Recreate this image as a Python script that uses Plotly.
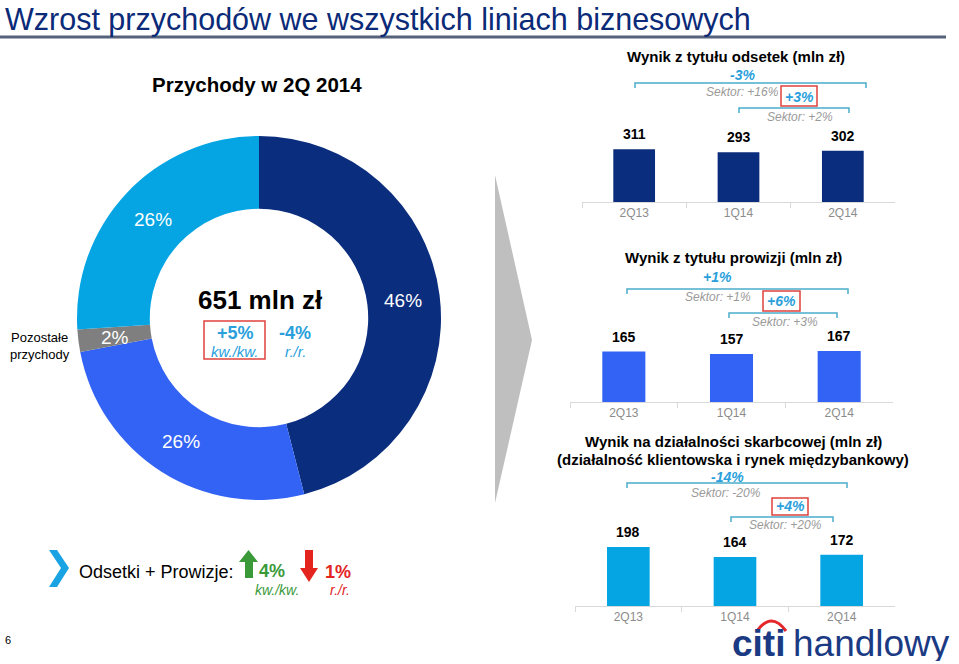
import math
import plotly.graph_objects as go

W, H = 959, 664


def px(x):
    return x / W


def py(y):
    return 1 - y / H


# ---------------- data ----------------
title_text = "Wzrost przychodów we wszystkich liniach biznesowych"
donut_title = "Przychody w 2Q 2014"
donut_labels = ["Wynik z tytułu odsetek", "Wynik z tytułu prowizji",
                "Pozostałe przychody", "Wynik na działalności skarbcowej"]
donut_values = [46, 26, 2, 26]
donut_total = "651 mln zł"
donut_qoq = "+5%"
donut_yoy = "-4%"

quarters = ["2Q13", "1Q14", "2Q14"]
odsetki = [311, 293, 302]
prowizje = [165, 157, 167]
skarb = [198, 164, 172]

odsetki_yoy, odsetki_yoy_sector = "-3%", "Sektor: +16%"
odsetki_qoq, odsetki_qoq_sector = "+3%", "Sektor: +2%"
prowizje_yoy, prowizje_yoy_sector = "+1%", "Sektor: +1%"
prowizje_qoq, prowizje_qoq_sector = "+6%", "Sektor: +3%"
skarb_yoy, skarb_yoy_sector = "-14%", "Sektor: -20%"
skarb_qoq, skarb_qoq_sector = "+4%", "Sektor: +20%"

op_qoq = "4%"
op_yoy = "1%"

# ---------------- styles ----------------
FONT = "Liberation Sans, Arial, sans-serif"
NAVY = "#0b2d7e"
BLUE = "#3363f4"
CYAN = "#05a5e3"
GRAY = "#7f7f7f"
donut_colors = [NAVY, BLUE, GRAY, CYAN]
PCT = "#2a9fdc"
BRACKET = "#4aaccb"
SECT = "#9a9a9a"
REDBOX = "#e0403c"
GREEN = "#3a9a3a"
RED = "#e3241f"

fig = go.Figure()

# donut
cx, cy, R = 259, 318, 182
fig.add_trace(go.Pie(
    values=donut_values, labels=donut_labels, hole=0.6, sort=False,
    direction="clockwise", rotation=0,
    marker=dict(colors=donut_colors, line=dict(width=0)),
    textinfo="none", hoverinfo="label+value", showlegend=False,
    domain=dict(x=[px(cx - R), px(cx + R)], y=[py(cy + R), py(cy - R)]),
))

annotations = []
shapes = []


def txt(x, y, text, size, color="black", xanchor="center", yanchor="middle", height=None):
    a = dict(
        x=px(x), y=py(y), xref="paper", yref="paper", text=text, showarrow=False,
        xanchor=xanchor, yanchor=yanchor,
        font=dict(family=FONT, size=size, color=color))
    if height is not None:
        a["height"] = height
    annotations.append(a)


# donut percentage labels, placed at mid-angle of each slice
cum = 0
total = sum(donut_values)
for v in donut_values:
    mid = (cum + v / 2) / total * 2 * math.pi
    rr = 0.8 * R
    txt(cx + rr * math.sin(mid), cy - rr * math.cos(mid) + 1, f"{v}%", 19, "white")
    cum += v

# bar charts
charts = [
    dict(vals=odsetki, color=NAVY, x0=582, x1=895, axis=202, top=100, rtop=600),
    dict(vals=prowizje, color=BLUE, x0=570, x1=893, axis=402, top=300, rtop=334),
    dict(vals=skarb, color=CYAN, x0=575, x1=895, axis=606, top=504, rtop=342),
]
layout_axes = {}
for i, c in enumerate(charts, start=1):
    sfx = "" if i == 1 else str(i)
    fig.add_trace(go.Bar(
        x=quarters, y=c["vals"], width=0.4, marker=dict(color=c["color"], line=dict(width=0)),
        xaxis="x" + sfx, yaxis="y" + sfx, showlegend=False, hoverinfo="x+y"))
    layout_axes["xaxis" + sfx] = dict(
        domain=[px(c["x0"]), px(c["x1"])], anchor="y" + sfx, type="category",
        range=[-0.5, 2.5], tickson="boundaries", ticks="outside", ticklen=5,
        tickcolor="#d9d9d9", showline=True, linecolor="#d9d9d9", linewidth=1,
        showgrid=False, zeroline=False,
        tickfont=dict(family=FONT, size=12, color="#8c8c8c"))
    layout_axes["yaxis" + sfx] = dict(
        domain=[py(c["axis"]), py(c["top"])], anchor="x" + sfx,
        range=[0, c["rtop"]], visible=False, fixedrange=True)
    for q, v in zip(quarters, c["vals"]):
        annotations.append(dict(
            x=q, y=v, xref="x" + sfx, yref="y" + sfx, text=f"<b>{v}</b>",
            showarrow=False, yanchor="middle", yshift=15,
            font=dict(family=FONT, size=14, color="black")))


def bracket(x0, x1, y, d=5):
    shapes.append(dict(
        type="path", xref="paper", yref="paper",
        path=f"M {px(x0)},{py(y + d)} L {px(x0)},{py(y)} L {px(x1)},{py(y)} L {px(x1)},{py(y + d)}",
        line=dict(color=BRACKET, width=1.5)))


def box(x0, x1, y0, y1):
    shapes.append(dict(type="rect", xref="paper", yref="paper",
                       x0=px(x0), x1=px(x1), y0=py(y1), y1=py(y0),
                       line=dict(color=REDBOX, width=1.5)))


# chart 1 annotations
txt(736, 57, "<b>Wynik z tytułu odsetek (mln zł)</b>", 15)
txt(742, 75, f"<b><i>{odsetki_yoy}</i></b>", 14, PCT)
bracket(635, 866, 83)
txt(742, 92, f"<i>{odsetki_yoy_sector}</i>", 12, SECT)
box(781, 817, 86, 106)
txt(799, 97, f"<b><i>{odsetki_qoq}</i></b>", 14, PCT)
bracket(739, 849, 108)
txt(800, 117, f"<i>{odsetki_qoq_sector}</i>", 12, SECT)

# chart 2 annotations
txt(733, 258, "<b>Wynik z tytułu prowizji (mln zł)</b>", 15)
txt(717, 277, f"<b><i>{prowizje_yoy}</i></b>", 14, PCT)
bracket(627, 848, 289)
txt(718, 297, f"<i>{prowizje_yoy_sector}</i>", 12, SECT)
box(763, 800, 291, 311)
txt(781, 301, f"<b><i>{prowizje_qoq}</i></b>", 14, PCT)
bracket(729, 837, 313)
txt(785, 322, f"<i>{prowizje_qoq_sector}</i>", 12, SECT)

# chart 3 annotations
txt(733, 442, "<b>Wynik na działalności skarbcowej (mln zł)</b>", 15)
txt(733, 459, "<b>(działalność klientowska i rynek międzybankowy)</b>", 15)
txt(727, 477, f"<b><i>{skarb_yoy}</i></b>", 14, PCT)
bracket(627, 847, 483)
txt(726, 493, f"<i>{skarb_yoy_sector}</i>", 12, SECT)
box(772, 808, 498, 515)
txt(790, 506, f"<b><i>{skarb_qoq}</i></b>", 14, PCT)
bracket(731, 833, 517)
txt(785, 525, f"<i>{skarb_qoq_sector}</i>", 12, SECT)

# header
txt(3, 0, title_text, 30.5, "#0b2a78", xanchor="left", yanchor="top")
shapes.append(dict(type="line", xref="paper", yref="paper",
                   x0=0, x1=px(946), y0=py(37), y1=py(37),
                   line=dict(color="#56617c", width=3)))

# donut panel texts
txt(257, 84, f"<b>{donut_title}</b>", 20.5)
txt(40, 346, "Pozostałe<br>przychody", 13)
txt(260, 300, f"<b>{donut_total}</b>", 26)
box(204, 265, 321, 359)
txt(235, 333, f"<b>{donut_qoq}</b>", 18, PCT)
txt(235, 351, "<i>kw./kw.</i>", 15, PCT)
txt(295, 333, f"<b>{donut_yoy}</b>", 18, PCT)
txt(295, 351, "<i>r./r.</i>", 15, PCT)

# gray arrow between panels
shapes.append(dict(type="path", xref="paper", yref="paper",
                   path=f"M {px(495)},{py(175)} L {px(532)},{py(340)} L {px(495)},{py(503)} Z",
                   fillcolor="#bfbfbf", line=dict(width=0)))

# bottom-left summary
shapes.append(dict(type="path", xref="paper", yref="paper",
                   path=(f"M {px(49)},{py(550)} L {px(57)},{py(550)} L {px(69)},{py(568)} "
                         f"L {px(57)},{py(587)} L {px(49)},{py(587)} L {px(61)},{py(568)} Z"),
                   fillcolor="#1aa3e2", line=dict(width=0)))
txt(156, 572, "Odsetki + Prowizje:", 18)
shapes.append(dict(type="path", xref="paper", yref="paper",
                   path=(f"M {px(248.5)},{py(550)} L {px(258)},{py(562)} L {px(253)},{py(562)} "
                         f"L {px(253)},{py(578)} L {px(245)},{py(578)} L {px(245)},{py(562)} "
                         f"L {px(239)},{py(562)} Z"),
                   fillcolor=GREEN, line=dict(width=0)))
txt(272, 571, f"<b>{op_qoq}</b>", 18, GREEN)
txt(277, 590, "<i>kw./kw.</i>", 14, GREEN)
shapes.append(dict(type="path", xref="paper", yref="paper",
                   path=(f"M {px(305)},{py(550)} L {px(313)},{py(550)} L {px(313)},{py(568)} "
                         f"L {px(318)},{py(568)} L {px(309)},{py(582)} L {px(300)},{py(568)} "
                         f"L {px(305)},{py(568)} Z"),
                   fillcolor=RED, line=dict(width=0)))
txt(338, 572, f"<b>{op_yoy}</b>", 18, RED)
txt(340, 590, "<i>r./r.</i>", 14, RED)

# page number
txt(8, 640, "6", 11)

# logo
txt(730, 643, "<b>citi</b>", 37, "#1b3a84", xanchor="left", height=36)
txt(791, 643, "handlowy", 37, "#1b3a84", xanchor="left", height=36)
shapes.append(dict(type="path", xref="paper", yref="paper",
                   path=f"M {px(757)},{py(631)} Q {px(771.5)},{py(611)} {px(786)},{py(631)}",
                   line=dict(color="#e5262a", width=3)))

fig.update_layout(
    width=W, height=H, margin=dict(l=0, r=0, t=0, b=0),
    paper_bgcolor="white", plot_bgcolor="rgba(0,0,0,0)",
    font=dict(family=FONT), showlegend=False,
    annotations=annotations, shapes=shapes, **layout_axes)

fig.write_html("out.html")
